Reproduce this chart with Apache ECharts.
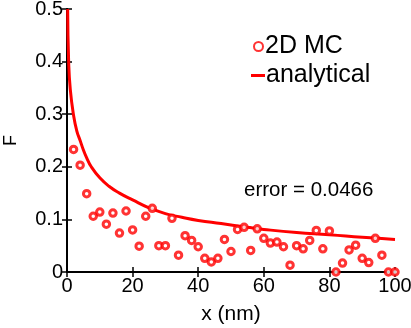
<!DOCTYPE html>
<html>
<head>
<meta charset="utf-8">
<script src="https://cdn.jsdelivr.net/npm/echarts@6/dist/echarts.min.js"></script>
<style>
  html, body { margin: 0; padding: 0; background: #fff; }
  #chart { width: 411px; height: 328px; }
</style>
</head>
<body>
<div id="chart"></div>
<script>
// Monte Carlo points (x in nm, F)
const mcX = [2, 4, 6, 8, 10, 12, 14, 16, 18, 20, 22, 24, 26, 28, 30, 32, 34, 36, 38, 40,
  42, 44, 46, 48, 50, 52, 54, 56, 58, 60, 62, 64, 66, 68, 70, 72, 74, 76, 78, 80,
  82, 84, 86, 88, 90, 92, 94, 96, 98, 100]
const mcF = [0.233, 0.203, 0.149, 0.106, 0.114, 0.091, 0.112, 0.074, 0.116, 0.080,
  0.049, 0.106, 0.121, 0.050, 0.050, 0.102, 0.032, 0.069, 0.060, 0.048,
  0.026, 0.019, 0.026, 0.062, 0.039, 0.081, 0.085, 0.041, 0.082, 0.064,
  0.055, 0.057, 0.048, 0.013, 0.050, 0.044, 0.060, 0.079, 0.044, 0.078,
  0.0, 0.017, 0.042, 0.051, 0.026, 0.018, 0.064, 0.032, 0.0, 0.0]

// analytical curve
const curveX = [0.2, 0.5, 1, 2, 3, 4, 5, 6, 7.4, 10, 12.8, 16, 20, 25, 30, 35, 40, 47, 55, 60, 70, 80, 90, 100]
const curveF = [0.5, 0.40, 0.347, 0.298, 0.268, 0.25, 0.232, 0.217, 0.2, 0.179, 0.163, 0.150,
  0.137, 0.122, 0.111, 0.104, 0.098, 0.092, 0.085, 0.081, 0.075, 0.071, 0.066, 0.062]

const xTicks = [0, 20, 40, 60, 80, 100]
const yTicks = [0, 0.1, 0.2, 0.3, 0.4, 0.5]

const red = '#ff0000'
const font = 'Liberation Sans, Arial, sans-serif'

const chart = echarts.init(document.getElementById('chart'))

const boxAxis = {
  axisLine: { show: true, lineStyle: { color: '#000', width: 2 } },
  axisTick: { show: true, inside: true, length: 5, lineStyle: { color: '#000', width: 1.5 } },
  splitLine: { show: false }
}

const option = {
  animation: false,
  grid: { left: 67, right: 16, top: 9, bottom: 56, outerBoundsMode: 'none', containLabel: false },
  title: {
    text: 'error = 0.0466',
    left: 239,
    top: 175,
    textStyle: { fontFamily: font, fontSize: 20.5, fontWeight: 'normal', color: '#000' }
  },
  legend: [
    {
      data: [{ name: '2D MC', icon: 'circle' }],
      left: 248,
      top: 29,
      itemWidth: 9,
      itemHeight: 9,
      itemGap: 4,
      textStyle: { fontFamily: font, fontSize: 25, color: '#000', padding: [0, 0, 0, -3] }
    },
    {
      data: [{ name: 'analytical', icon: 'rect' }],
      left: 246,
      top: 58,
      itemWidth: 14,
      itemHeight: 3,
      textStyle: { fontFamily: font, fontSize: 25, color: '#000', padding: [0, 0, 0, -4] }
    }
  ],
  xAxis: [
    {
      type: 'value',
      min: xTicks[0],
      max: xTicks[xTicks.length - 1],
      interval: xTicks[1] - xTicks[0],
      name: 'x (nm)',
      nameLocation: 'middle',
      nameGap: 32,
      nameTextStyle: { fontFamily: font, fontSize: 21, color: '#000' },
      axisLabel: { fontFamily: font, fontSize: 20, color: '#000', margin: 4 },
      ...boxAxis
    },
    {
      type: 'value',
      position: 'top',
      min: xTicks[0],
      max: xTicks[xTicks.length - 1],
      interval: xTicks[1] - xTicks[0],
      axisLabel: { show: false },
      ...boxAxis
    }
  ],
  yAxis: [
    {
      type: 'value',
      min: yTicks[0],
      max: yTicks[yTicks.length - 1],
      interval: 0.1,
      name: 'F',
      nameLocation: 'middle',
      nameGap: 47,
      nameTextStyle: { fontFamily: font, fontSize: 18, color: '#000' },
      axisLabel: { fontFamily: font, fontSize: 20, color: '#000', margin: 4 },
      ...boxAxis
    },
    {
      type: 'value',
      position: 'right',
      min: yTicks[0],
      max: yTicks[yTicks.length - 1],
      interval: 0.1,
      axisLabel: { show: false },
      ...boxAxis
    }
  ],
  series: [
    {
      name: '2D MC',
      type: 'scatter',
      data: mcX.map((x, i) => [x, mcF[i]]),
      symbol: 'circle',
      symbolSize: 6.5,
      clip: false,
      itemStyle: { color: '#fff', borderColor: red, borderWidth: 3 },
      z: 3
    },
    {
      name: 'analytical',
      type: 'line',
      data: curveX.map((x, i) => [x, curveF[i]]),
      smooth: 0.5,
      showSymbol: false,
      symbol: 'none',
      lineStyle: { color: red, width: 3 },
      itemStyle: { color: red },
      z: 2
    }
  ]
}

chart.setOption(option)
</script>
</body>
</html>
